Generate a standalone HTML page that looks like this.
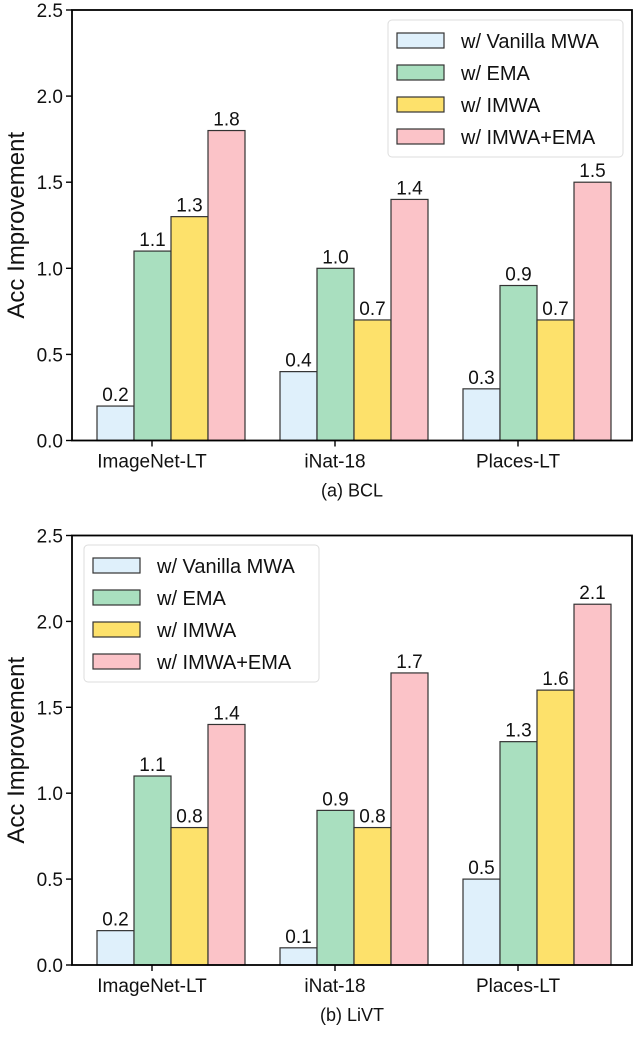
<!DOCTYPE html>
<html><head><meta charset="utf-8"><style>
body{margin:0;background:#fff;}
svg text{font-family:"Liberation Sans","DejaVu Sans",sans-serif;fill:#111;}
</style></head><body>
<svg id="c" width="640" height="1034" xmlns="http://www.w3.org/2000/svg"></svg>
<script>
const categories=["ImageNet-LT","iNat-18","Places-LT"];
const seriesNames=["w/ Vanilla MWA","w/ EMA","w/ IMWA","w/ IMWA+EMA"];
const bclVanilla=[0.2,0.4,0.3];
const bclEMA=[1.1,1.0,0.9];
const bclIMWA=[1.3,0.7,0.7];
const bclBoth=[1.8,1.4,1.5];
const livtVanilla=[0.2,0.1,0.5];
const livtEMA=[1.1,0.9,1.3];
const livtIMWA=[0.8,0.8,1.6];
const livtBoth=[1.4,1.7,2.1];
const yTicks=[0.0,0.5,1.0,1.5,2.0,2.5];
const colors=["#dff0fb","#a9dfbf","#fde16b","#fbc3c8"];
const NS="http://www.w3.org/2000/svg";
const svg=document.getElementById('c');
function mk(t,a,p){const e=document.createElementNS(NS,t);for(const k in a)e.setAttribute(k,a[k]);(p||svg).appendChild(e);return e;}
function panel(top,bottom,series,legend,caption,name){
  const g=mk('g',{});
  
  
  const L=72,R=632;
  const y=v=>bottom-(v/2.5)*(bottom-top);
  const x=(i,s)=>97+183*i+37*s;
  series.forEach((arr,s)=>arr.forEach((v,i)=>{
    const r=mk('rect',{x:x(i,s),y:y(v),width:37,height:bottom-y(v),fill:colors[s],stroke:'#333','stroke-width':1.2},g);
    
    
    const t=mk('text',{x:x(i,s)+18.5,y:y(v)-5,'text-anchor':'middle','font-size':19},g);
    t.textContent=v.toFixed(1);
    
    
  }));
  mk('rect',{x:L,y:top,width:R-L,height:bottom-top,fill:'none',stroke:'#000','stroke-width':1.8},g);
  yTicks.forEach(v=>{
    mk('line',{x1:L-6,x2:L,y1:y(v),y2:y(v),stroke:'#000','stroke-width':1.4},g);
    const t=mk('text',{x:L-9,y:y(v)+7,'text-anchor':'end','font-size':19},g);
    t.textContent=v.toFixed(1);
    
    
  });
  categories.forEach((c,i)=>{
    const cx=x(i,0)+55;
    mk('line',{x1:cx,x2:cx,y1:bottom,y2:bottom+6,stroke:'#000','stroke-width':1.4},g);
    const t=mk('text',{x:cx,y:bottom+27,'text-anchor':'middle','font-size':19},g);
    t.textContent=c;
    
    
  });
  const yt=mk('text',{x:0,y:0,'text-anchor':'middle','font-size':24,transform:`translate(24,${(top+bottom)/2}) rotate(-90)`},g);
  yt.textContent='Acc Improvement';
  
  
  const cap=mk('text',{x:352,y:bottom+56,'text-anchor':'middle','font-size':18},g);
  cap.textContent=caption;
  
  
  const lg=mk('g',{},g);
  
  
  mk('rect',{x:legend[0],y:legend[1],width:235,height:137,rx:4,fill:'#fff',stroke:'#ddd'},lg);
  seriesNames.forEach((n,s)=>{
    const yy=legend[1]+13+s*32;
    mk('rect',{x:legend[0]+9,y:yy,width:47,height:15,fill:colors[s],stroke:'#333','stroke-width':1.2},lg);
    const t=mk('text',{x:legend[0]+73,y:yy+15,'font-size':20},lg);
    t.textContent=n;
    
    
  });
}
panel(10,440.5,[bclVanilla,bclEMA,bclIMWA,bclBoth],[388,20],'(a) BCL','panel-bcl');
panel(535.5,965,[livtVanilla,livtEMA,livtIMWA,livtBoth],[84,545],'(b) LiVT','panel-livt');
</script>
</body></html>
